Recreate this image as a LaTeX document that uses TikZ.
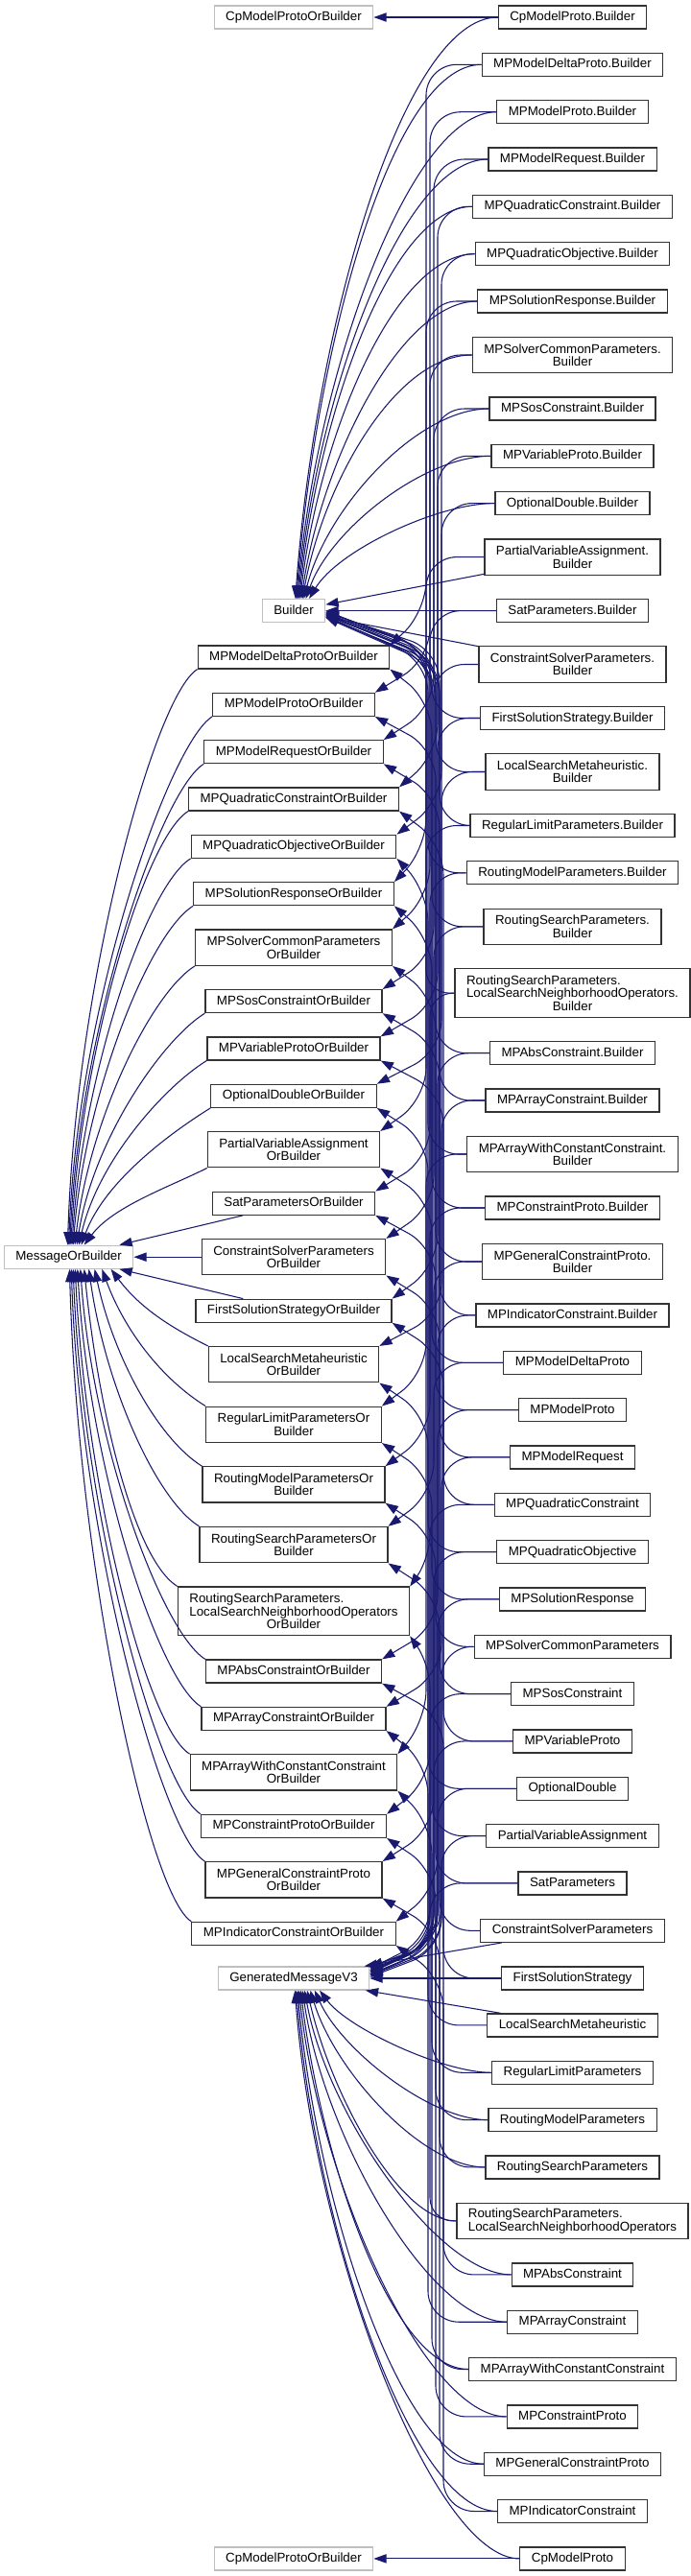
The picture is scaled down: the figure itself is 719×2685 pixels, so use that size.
\documentclass[tikz,border=0pt]{standalone}
\usepackage{fontspec}
\setmainfont{Liberation Sans}
\usetikzlibrary{arrows.meta}
\definecolor{edgeblue}{HTML}{191970}
\tikzset{
  tbox/.style={draw=black!80, line width=0.9pt, fill=white, inner xsep=9pt, inner ysep=0pt, font=\fontsize{10}{10}\selectfont},
  cls/.style={tbox, minimum height=18pt, text height=7.4pt, text depth=2.1pt},
  cls2/.style={tbox, align=center, minimum height=28pt},
  cls3/.style={tbox, align=center, minimum height=38pt},
  ext/.style={cls, draw=black!25},
  inh/.style={draw=edgeblue, line width=0.8pt, -{Triangle[length=10pt,width=7pt]}},
  bundle/.style={inh, rounded corners=24pt}
}
\begin{document}
\begin{tikzpicture}[x=0.75pt, y=-0.75pt]
    \path[use as bounding box, fill=white] (0,0) rectangle (719,2685);
    \node[ext] (cpor1) at (306,18) {CpModelProtoOrBuilder};
    \node[ext] (builder) at (306,636.6) {Builder};
    \node[ext] (msgor) at (71.6,1310.2) {MessageOrBuilder};
    \node[ext] (gmv3) at (306,2062) {GeneratedMessageV3};
    \node[ext] (cpor2) at (306,2666.9) {CpModelProtoOrBuilder};

    \node[cls] (cp-b) at (596.5,18) {CpModelProto.Builder};
    \node[cls] (delta-b) at (596.5,67.3) {MPModelDeltaProto.Builder};
    \node[cls] (model-b) at (596.5,116.7) {MPModelProto.Builder};
    \node[cls] (request-b) at (596.5,166) {MPModelRequest.Builder};
    \node[cls] (qcon-b) at (596.5,215.3) {MPQuadraticConstraint.Builder};
    \node[cls] (qobj-b) at (596.5,264.7) {MPQuadraticObjective.Builder};
    \node[cls] (resp-b) at (596.5,314) {MPSolutionResponse.Builder};
    \node[cls2] (common-b) at (596.5,370) {MPSolverCommonParameters.\\Builder};
    \node[cls] (sos-b) at (596.5,426) {MPSosConstraint.Builder};
    \node[cls] (var-b) at (596.5,475.3) {MPVariableProto.Builder};
    \node[cls] (optd-b) at (596.5,524.6) {OptionalDouble.Builder};
    \node[cls2] (pva-b) at (596.5,580.6) {PartialVariableAssignment.\\Builder};
    \node[cls] (sat-b) at (596.5,636.6) {SatParameters.Builder};
    \node[cls2] (csp-b) at (596.5,692.5) {ConstraintSolverParameters.\\Builder};
    \node[cls] (fss-b) at (596.5,748.5) {FirstSolutionStrategy.Builder};
    \node[cls2] (lsm-b) at (596.5,804.5) {LocalSearchMetaheuristic.\\Builder};
    \node[cls] (rlp-b) at (596.5,860.5) {RegularLimitParameters.Builder};
    \node[cls] (rmp-b) at (596.5,909.8) {RoutingModelParameters.Builder};
    \node[cls2] (rsp-b) at (596.5,965.8) {RoutingSearchParameters.\\Builder};
    \node[cls3] (lsno-b) at (596.5,1035.1) {\rlap{RoutingSearchParameters.}\phantom{LocalSearchNeighborhoodOperators.}\\LocalSearchNeighborhoodOperators.\\Builder};
    \node[cls] (abs-b) at (596.5,1097.7) {MPAbsConstraint.Builder};
    \node[cls] (arr-b) at (596.5,1147) {MPArrayConstraint.Builder};
    \node[cls2] (arrc-b) at (596.5,1203) {MPArrayWithConstantConstraint.\\Builder};
    \node[cls] (con-b) at (596.5,1259) {MPConstraintProto.Builder};
    \node[cls2] (gen-b) at (596.5,1315) {MPGeneralConstraintProto.\\Builder};
    \node[cls] (ind-b) at (596.5,1370.9) {MPIndicatorConstraint.Builder};

    \node[cls] (delta) at (596.5,1420.3) {MPModelDeltaProto};
    \node[cls] (model) at (596.5,1469.6) {MPModelProto};
    \node[cls] (request) at (596.5,1518.9) {MPModelRequest};
    \node[cls] (qcon) at (596.5,1568.3) {MPQuadraticConstraint};
    \node[cls] (qobj) at (596.5,1617.6) {MPQuadraticObjective};
    \node[cls] (resp) at (596.5,1666.9) {MPSolutionResponse};
    \node[cls] (common) at (596.5,1716.3) {MPSolverCommonParameters};
    \node[cls] (sos) at (596.5,1765.6) {MPSosConstraint};
    \node[cls] (var) at (596.5,1814.9) {MPVariableProto};
    \node[cls] (optd) at (596.5,1864.3) {OptionalDouble};
    \node[cls] (pva) at (596.5,1913.6) {PartialVariableAssignment};
    \node[cls] (sat) at (596.5,1962.9) {SatParameters};
    \node[cls] (csp) at (596.5,2012.3) {ConstraintSolverParameters};
    \node[cls] (fss) at (596.5,2062) {FirstSolutionStrategy};
    \node[cls] (lsm) at (596.5,2110.9) {LocalSearchMetaheuristic};
    \node[cls] (rlp) at (596.5,2160.3) {RegularLimitParameters};
    \node[cls] (rmp) at (596.5,2209.6) {RoutingModelParameters};
    \node[cls] (rsp) at (596.5,2258.9) {RoutingSearchParameters};
    \node[cls2, align=left] (lsno) at (596.5,2314.9) {RoutingSearchParameters.\\LocalSearchNeighborhoodOperators};
    \node[cls] (abs) at (596.5,2370.9) {MPAbsConstraint};
    \node[cls] (arr) at (596.5,2420.2) {MPArrayConstraint};
    \node[cls] (arrc) at (596.5,2469.5) {MPArrayWithConstantConstraint};
    \node[cls] (con) at (596.5,2518.9) {MPConstraintProto};
    \node[cls] (gen) at (596.5,2568.2) {MPGeneralConstraintProto};
    \node[cls] (ind) at (596.5,2617.5) {MPIndicatorConstraint};
    \node[cls] (cp) at (596.5,2666.9) {CpModelProto};

    \node[cls] (delta-or) at (306,685) {MPModelDeltaProtoOrBuilder};
    \node[cls] (model-or) at (306,734.3) {MPModelProtoOrBuilder};
    \node[cls] (request-or) at (306,783.7) {MPModelRequestOrBuilder};
    \node[cls] (qcon-or) at (306,833) {MPQuadraticConstraintOrBuilder};
    \node[cls] (qobj-or) at (306,882.3) {MPQuadraticObjectiveOrBuilder};
    \node[cls] (resp-or) at (306,931.7) {MPSolutionResponseOrBuilder};
    \node[cls2] (common-or) at (306,987.6) {MPSolverCommonParameters\\OrBuilder};
    \node[cls] (sos-or) at (306,1043.6) {MPSosConstraintOrBuilder};
    \node[cls] (var-or) at (306,1092.9) {MPVariableProtoOrBuilder};
    \node[cls] (optd-or) at (306,1142.3) {OptionalDoubleOrBuilder};
    \node[cls2] (pva-or) at (306,1198.2) {PartialVariableAssignment\\OrBuilder};
    \node[cls] (sat-or) at (306,1254.2) {SatParametersOrBuilder};
    \node[cls2] (csp-or) at (306,1310.2) {ConstraintSolverParameters\\OrBuilder};
    \node[cls] (fss-or) at (306,1366.2) {FirstSolutionStrategyOrBuilder};
    \node[cls2] (lsm-or) at (306,1422.2) {LocalSearchMetaheuristic\\OrBuilder};
    \node[cls2] (rlp-or) at (306,1484.8) {RegularLimitParametersOr\\Builder};
    \node[cls2] (rmp-or) at (306,1547.4) {RoutingModelParametersOr\\Builder};
    \node[cls2] (rsp-or) at (306,1610.1) {RoutingSearchParametersOr\\Builder};
    \node[cls3] (lsno-or) at (306,1679.4) {\rlap{RoutingSearchParameters.}\phantom{LocalSearchNeighborhoodOperators}\\LocalSearchNeighborhoodOperators\\OrBuilder};
    \node[cls] (abs-or) at (306,1742) {MPAbsConstraintOrBuilder};
    \node[cls] (arr-or) at (306,1791.4) {MPArrayConstraintOrBuilder};
    \node[cls2] (arrc-or) at (306,1847.4) {MPArrayWithConstantConstraint\\OrBuilder};
    \node[cls] (con-or) at (306,1903.3) {MPConstraintProtoOrBuilder};
    \node[cls2] (gen-or) at (306,1959.3) {MPGeneralConstraintProto\\OrBuilder};
    \node[cls] (ind-or) at (306,2015.3) {MPIndicatorConstraintOrBuilder};

    \draw[inh] (cp-b) -- (cpor1);
    \draw[inh] (cp) -- (cpor2);

    \draw[inh] (cp-b.west) .. controls +(-100,0) and +(20,-278) .. (builder.82);
    \draw[inh] (delta-b.west) .. controls +(-95,0) and +(20,-256) .. (builder.78);
    \draw[inh] (model-b.west) .. controls +(-90,0) and +(20,-234) .. (builder.74);
    \draw[inh] (request-b.west) .. controls +(-90,0) and +(20,-212) .. (builder.70);
    \draw[inh] (qcon-b.west) .. controls +(-85,0) and +(20,-190) .. (builder.66);
    \draw[inh] (qobj-b.west) .. controls +(-85,0) and +(20,-167) .. (builder.62);
    \draw[inh] (resp-b.west) .. controls +(-80,0) and +(22,-145) .. (builder.58);
    \draw[inh] (common-b.west) .. controls +(-80,0) and +(22,-120) .. (builder.54);
    \draw[inh] (sos-b.west) .. controls +(-75,0) and +(24,-95) .. (builder.50);
    \draw[inh] (var-b.west) .. controls +(-70,0) and +(26,-72) .. (builder.45);
    \draw[inh] (optd-b.west) .. controls +(-60,0) and +(30,-50) .. (builder.38);
    \draw[inh] (pva-b) -- (builder);
    \draw[inh] (sat-b) -- (builder);
    \draw[inh] (csp-b) -- (builder);
    \draw[bundle] (fss-b.west) -| (450,680) -- (builder.east);
    \draw[bundle] (lsm-b.west) -| (454,684) -- (builder.-4);
    \draw[bundle] (rlp-b.west) -| (458,688) -- (builder.-8);
    \draw[bundle] (rmp-b.west) -| (446,676) -- (builder.-2);
    \draw[bundle] (rsp-b.west) -| (450,690) -- (builder.-10);
    \draw[bundle, rounded corners=18pt] (lsno-b.west) -| (444,682) -- (builder.-6);
    \draw[bundle] (abs-b.west) -| (454,694) -- (builder.-12);
    \draw[bundle] (arr-b.west) -| (458,678) -- (builder.-3);
    \draw[bundle] (arrc-b.west) -| (446,690) -- (builder.-9);
    \draw[bundle] (con-b.west) -| (450,686) -- (builder.-7);
    \draw[bundle] (gen-b.west) -| (454,680) -- (builder.-5);
    \draw[bundle] (ind-b.west) -| (458,692) -- (builder.-11);

    \draw[bundle] (delta-b.west) -| (444,638) -- (delta-or.north east);
    \draw[bundle] (model-b.west) -| (448,687) -- (model-or.north east);
    \draw[bundle] (request-b.west) -| (452,737) -- (request-or.north east);
    \draw[bundle] (qcon-b.west) -| (456,786) -- (qcon-or.north east);
    \draw[bundle] (qobj-b.west) -| (460,835) -- (qobj-or.north east);
    \draw[bundle] (resp-b.west) -| (444,885) -- (resp-or.north east);
    \draw[bundle] (common-b.west) -| (448,934) -- (common-or.north east);
    \draw[bundle] (sos-b.west) -| (452,997) -- (sos-or.north east);
    \draw[bundle] (var-b.west) -| (456,1046) -- (var-or.north east);
    \draw[bundle] (optd-b.west) -| (460,1095) -- (optd-or.north east);
    \draw[bundle] (pva-b.west) -| (444,1145) -- (pva-or.north east);
    \draw[bundle] (sat-b.west) -| (448,1207) -- (sat-or.north east);
    \draw[bundle] (csp-b.west) -| (452,1257) -- (csp-or.north east);
    \draw[bundle] (fss-b.west) -| (456,1319) -- (fss-or.north east);
    \draw[bundle] (lsm-b.west) -| (460,1369) -- (lsm-or.north east);
    \draw[bundle] (rlp-b.west) -| (444,1431) -- (rlp-or.north east);
    \draw[bundle] (rmp-b.west) -| (448,1494) -- (rmp-or.north east);
    \draw[bundle] (rsp-b.west) -| (452,1556) -- (rsp-or.north east);
    \draw[bundle, rounded corners=18pt] (lsno-b.west) -| (448,1624) -- (lsno-or.north east);
    \draw[bundle] (abs-b.west) -| (456,1695) -- (abs-or.north east);
    \draw[bundle] (arr-b.west) -| (460,1744) -- (arr-or.north east);
    \draw[bundle] (arrc-b.west) -| (444,1794) -- (arrc-or.north east);
    \draw[bundle] (con-b.west) -| (448,1856) -- (con-or.north east);
    \draw[bundle] (gen-b.west) -| (452,1906) -- (gen-or.north east);
    \draw[bundle] (ind-b.west) -| (456,1968) -- (ind-or.north east);

    \draw[bundle] (delta.west) -| (450,732) -- (delta-or.south east);
    \draw[bundle] (model.west) -| (454,781) -- (model-or.south east);
    \draw[bundle] (request.west) -| (458,831) -- (request-or.south east);
    \draw[bundle] (qcon.west) -| (462,880) -- (qcon-or.south east);
    \draw[bundle] (qobj.west) -| (446,929) -- (qobj-or.south east);
    \draw[bundle] (resp.west) -| (450,979) -- (resp-or.south east);
    \draw[bundle] (common.west) -| (454,1041) -- (common-or.south east);
    \draw[bundle] (sos.west) -| (458,1091) -- (sos-or.south east);
    \draw[bundle] (var.west) -| (462,1140) -- (var-or.south east);
    \draw[bundle] (optd.west) -| (446,1189) -- (optd-or.south east);
    \draw[bundle] (pva.west) -| (450,1252) -- (pva-or.south east);
    \draw[bundle] (sat.west) -| (454,1301) -- (sat-or.south east);
    \draw[bundle] (csp.west) -| (458,1364) -- (csp-or.south east);
    \draw[bundle] (fss.west) -| (462,1413) -- (fss-or.south east);
    \draw[bundle] (lsm.west) -| (446,1476) -- (lsm-or.south east);
    \draw[bundle] (rlp.west) -| (450,1538) -- (rlp-or.south east);
    \draw[bundle] (rmp.west) -| (454,1601) -- (rmp-or.south east);
    \draw[bundle] (rsp.west) -| (458,1664) -- (rsp-or.south east);
    \draw[bundle, rounded corners=18pt] (lsno.west) -| (448,1735) -- (lsno-or.south east);
    \draw[bundle] (abs.west) -| (462,1789) -- (abs-or.south east);
    \draw[bundle] (arr.west) -| (446,1838) -- (arr-or.south east);
    \draw[bundle] (arrc.west) -| (450,1901) -- (arrc-or.south east);
    \draw[bundle] (con.west) -| (454,1950) -- (con-or.south east);
    \draw[bundle] (gen.west) -| (458,2013) -- (gen-or.south east);
    \draw[bundle] (ind.west) -| (462,2062) -- (ind-or.south east);

    \draw[bundle] (delta.west) -| (452,2024) -- (gmv3.4);
    \draw[bundle] (model.west) -| (456,2028) -- (gmv3.2);
    \draw[bundle] (request.west) -| (460,2020) -- (gmv3.6);
    \draw[bundle] (qcon.west) -| (448,2026) -- (gmv3.8);
    \draw[bundle] (qobj.west) -| (452,2030) -- (gmv3.3);
    \draw[bundle] (resp.west) -| (456,2022) -- (gmv3.5);
    \draw[bundle] (common.west) -| (460,2032) -- (gmv3.1);
    \draw[bundle] (sos.west) -| (448,2020) -- (gmv3.7);
    \draw[bundle] (var.west) -| (452,2028) -- (gmv3.9);
    \draw[bundle] (optd.west) -| (456,2024) -- (gmv3.4);
    \draw[bundle] (pva.west) -| (460,2030) -- (gmv3.2);
    \draw[bundle] (sat.west) -| (448,2030) -- (gmv3.6);
    \draw[inh] (csp) -- (gmv3);
    \draw[inh] (fss) -- (gmv3);
    \draw[inh] (lsm) -- (gmv3);
    \draw[inh] (rlp.west) .. controls +(-50,0) and +(30,40) .. (gmv3.-25);
    \draw[inh] (rmp.west) .. controls +(-60,0) and +(28,62) .. (gmv3.-30);
    \draw[inh] (rsp.west) .. controls +(-65,0) and +(26,85) .. (gmv3.-36);
    \draw[inh] (lsno.west) .. controls +(-60,0) and +(25,108) .. (gmv3.-42);
    \draw[inh] (abs.west) .. controls +(-75,0) and +(24,132) .. (gmv3.-48);
    \draw[inh] (arr.west) .. controls +(-80,0) and +(23,155) .. (gmv3.-54);
    \draw[inh] (arrc.west) .. controls +(-80,0) and +(22,178) .. (gmv3.-60);
    \draw[inh] (con.west) .. controls +(-85,0) and +(21,200) .. (gmv3.-66);
    \draw[inh] (gen.west) .. controls +(-85,0) and +(20,222) .. (gmv3.-72);
    \draw[inh] (ind.west) .. controls +(-90,0) and +(20,245) .. (gmv3.-78);
    \draw[inh] (cp.west) .. controls +(-90,0) and +(20,268) .. (gmv3.-84);

    \draw[inh] (delta-or.south west) .. controls +(-45,28) and +(8,-270) .. (msgor.95);
    \draw[inh] (model-or.south west) .. controls +(-45,28) and +(9,-248) .. (msgor.90);
    \draw[inh] (request-or.south west) .. controls +(-45,28) and +(10,-226) .. (msgor.85);
    \draw[inh] (qcon-or.south west) .. controls +(-45,28) and +(11,-204) .. (msgor.80);
    \draw[inh] (qobj-or.south west) .. controls +(-45,28) and +(12,-182) .. (msgor.75);
    \draw[inh] (resp-or.south west) .. controls +(-45,28) and +(13,-160) .. (msgor.70);
    \draw[inh] (common-or.south west) .. controls +(-45,28) and +(15,-131) .. (msgor.63);
    \draw[inh] (sos-or.south west) .. controls +(-45,28) and +(17,-109) .. (msgor.56);
    \draw[inh] (var-or.south west) .. controls +(-45,28) and +(20,-87) .. (msgor.50);
    \draw[inh] (optd-or.south west) .. controls +(-45,28) and +(24,-65) .. (msgor.44);
    \draw[inh] (pva-or.south west) .. controls +(-40,20) and +(30,-40) .. (msgor.38);
    \draw[inh] (sat-or) -- (msgor);
    \draw[inh] (csp-or) -- (msgor);
    \draw[inh] (fss-or) -- (msgor);
    \draw[inh] (lsm-or.north west) .. controls +(-40,-20) and +(30,40) .. (msgor.-16);
    \draw[inh] (rlp-or.north west) .. controls +(-45,-28) and +(24,65) .. (msgor.-20);
    \draw[inh] (rmp-or.north west) .. controls +(-45,-28) and +(20,93) .. (msgor.-25);
    \draw[inh] (rsp-or.north west) .. controls +(-45,-28) and +(17,121) .. (msgor.-31);
    \draw[inh] (lsno-or.north west) .. controls +(-45,-28) and +(15,149) .. (msgor.-38);
    \draw[inh] (abs-or.north west) .. controls +(-45,-28) and +(13,184) .. (msgor.-46);
    \draw[inh] (arr-or.north west) .. controls +(-45,-28) and +(12,206) .. (msgor.-54);
    \draw[inh] (arrc-or.north west) .. controls +(-45,-28) and +(11,228) .. (msgor.-62);
    \draw[inh] (con-or.north west) .. controls +(-45,-28) and +(10,256) .. (msgor.-70);
    \draw[inh] (gen-or.north west) .. controls +(-45,-28) and +(9,278) .. (msgor.-78);
    \draw[inh] (ind-or.north west) .. controls +(-45,-28) and +(8,306) .. (msgor.-86);
\end{tikzpicture}
\end{document}
